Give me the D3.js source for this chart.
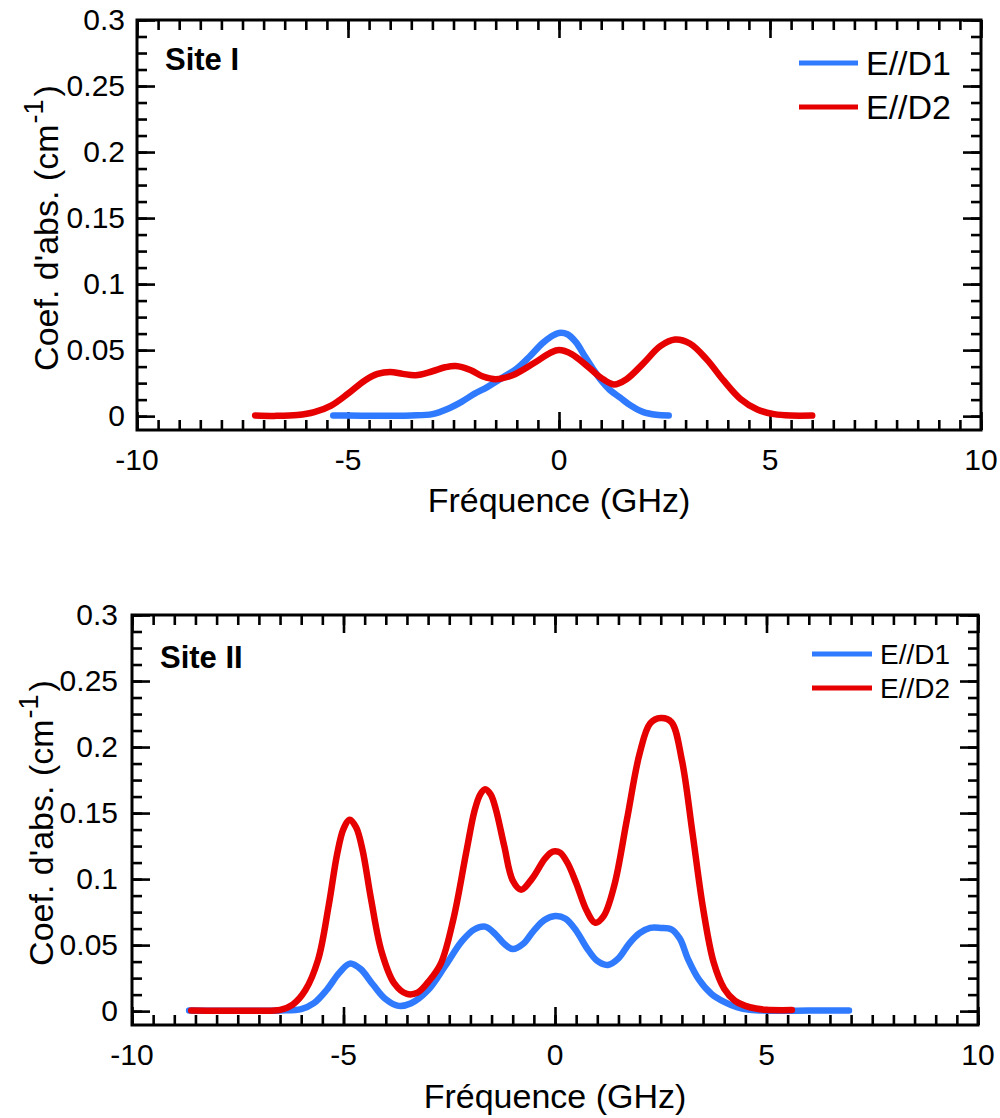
<!DOCTYPE html>
<html><head><meta charset="utf-8">
<script src="https://cdn.jsdelivr.net/npm/d3@7"></script>
<style>
body{margin:0;background:#fff}
svg{display:block}
text{font-family:"Liberation Sans",Arial,Helvetica,sans-serif;fill:#000}
</style>
</head><body>
<svg id="c" width="1000" height="1118"></svg>
<script>
// ---------- data ----------
const xMajorTicks = [-10, -5, 0, 5, 10];
const xTickLabels = ["-10", "-5", "0", "5", "10"];
const yMajorTicks = [0, 0.05, 0.1, 0.15, 0.2, 0.25, 0.3];
const yTickLabels = ["0", "0.05", "0.1", "0.15", "0.2", "0.25", "0.3"];
const seriesNames = ["E//D1", "E//D2"];
const panelTitles = ["Site I", "Site II"];
const xAxisTitle = "Fréquence (GHz)";
const yAxisTitle = "Coef. d'abs. (cm";
const yAxisSup = "-1";

// Site I, E//D1 : [frequency GHz, absorption cm^-1]
const siteI_D1 = [
  [-5.35,0.0005],[-5,0.0004],[-4.5,0.0003],[-4,0.0003],[-3.5,0.0005],[-3,0.0015],
  [-2.6,0.006],[-2.3,0.011],[-2,0.017],[-1.7,0.022],[-1.4,0.028],[-1,0.036],
  [-0.7,0.045],[-0.4,0.055],[-0.2,0.060],[0,0.063],[0.2,0.062],[0.4,0.056],
  [0.6,0.046],[0.8,0.036],[1,0.027],[1.2,0.020],[1.45,0.014],[1.7,0.008],
  [2,0.003],[2.3,0.001],[2.6,0.0005]
];
// Site I, E//D2
const siteI_D2 = [
  [-7.2,0.0005],[-6.7,0.0002],[-6.2,0.0008],[-5.8,0.003],[-5.4,0.008],[-5,0.017],
  [-4.6,0.027],[-4.3,0.032],[-4,0.0335],[-3.7,0.032],[-3.4,0.031],[-3,0.034],
  [-2.7,0.037],[-2.45,0.038],[-2.1,0.035],[-1.8,0.030],[-1.5,0.028],[-1.1,0.031],
  [-0.6,0.040],[-0.2,0.048],[0,0.050],[0.3,0.047],[0.7,0.037],[1,0.029],
  [1.3,0.024],[1.6,0.028],[2,0.040],[2.4,0.053],[2.75,0.058],[3.1,0.055],
  [3.5,0.043],[3.9,0.027],[4.3,0.013],[4.7,0.005],[5.1,0.0015],[5.5,0.0004],[6,0.0004]
];
// Site II, E//D1
const siteII_D1 = [
  [-8.65,0.0005],[-8,0.0003],[-7,0.0003],[-6.5,0.0005],[-6,0.0015],[-5.7,0.006],
  [-5.4,0.016],[-5.1,0.029],[-4.85,0.036],[-4.6,0.032],[-4.3,0.020],[-4,0.009],
  [-3.7,0.004],[-3.4,0.006],[-3,0.016],[-2.6,0.034],[-2.2,0.053],[-1.9,0.062],
  [-1.65,0.064],[-1.4,0.058],[-1.2,0.051],[-1,0.047],[-0.75,0.051],[-0.5,0.061],
  [-0.25,0.069],[0,0.072],[0.25,0.070],[0.5,0.061],[0.75,0.048],[1,0.038],
  [1.25,0.035],[1.5,0.040],[1.75,0.051],[2,0.059],[2.25,0.063],[2.5,0.063],
  [2.75,0.062],[2.95,0.055],[3.15,0.039],[3.4,0.024],[3.7,0.013],[4,0.007],
  [4.3,0.003],[4.6,0.001],[5.2,0.0003],[6,0.0004],[6.95,0.0005]
];
// Site II, E//D2
const siteII_D2 = [
  [-8.6,0.0005],[-8,0.0003],[-7,0.0003],[-6.5,0.001],[-6.2,0.005],[-5.9,0.016],
  [-5.6,0.039],[-5.35,0.080],[-5.15,0.119],[-5,0.138],[-4.85,0.145],[-4.7,0.139],
  [-4.55,0.122],[-4.35,0.085],[-4.1,0.045],[-3.8,0.021],[-3.5,0.013],[-3.25,0.014],
  [-3,0.022],[-2.7,0.036],[-2.4,0.070],[-2.1,0.120],[-1.9,0.152],[-1.77,0.164],
  [-1.65,0.168],[-1.52,0.164],[-1.4,0.153],[-1.2,0.125],[-1,0.099],[-0.8,0.092],
  [-0.55,0.100],[-0.25,0.115],[-0.1,0.120],[0,0.121],[0.12,0.120],[0.3,0.112],
  [0.5,0.097],[0.75,0.076],[0.95,0.067],[1.15,0.072],[1.4,0.095],[1.7,0.145],
  [2,0.195],[2.25,0.218],[2.5,0.222],[2.75,0.219],[3,0.190],[3.25,0.135],
  [3.5,0.078],[3.75,0.037],[4,0.017],[4.25,0.008],[4.5,0.004],[4.75,0.002],
  [5,0.001],[5.6,0.0008]
];

const colors = ["#2f7aff", "#e60000"];

// ---------- drawing ----------
const svg = d3.select("#c");

function drawPanel(p) {
  const x = d3.scaleLinear().domain([-10, 10]).range([p.left, p.right]);
  const y = d3.scaleLinear().domain([-0.0105, 0.3]).range([p.bottom, p.top]);
  const g = svg.append("g");

  const xMinor = d3.range(-10, 10.001, 0.5);
  const yMinor = d3.range(0, 0.3001, 0.0125);

  function tickAxis(axisFn, scale, vals, len, transform) {
    const a = axisFn(scale).tickValues(vals).tickSize(-len).tickSizeOuter(0).tickFormat("");
    const ga = g.append("g").attr("transform", transform).call(a);
    ga.select(".domain").remove();
    ga.selectAll("line").attr("stroke", "#000").attr("stroke-width", 2.6);
    return ga;
  }
  tickAxis(d3.axisBottom, x, xMinor, 10, `translate(0,${p.bottom})`);
  tickAxis(d3.axisBottom, x, xMajorTicks, 18, `translate(0,${p.bottom})`);
  tickAxis(d3.axisTop, x, xMinor, 10, `translate(0,${p.top})`);
  tickAxis(d3.axisTop, x, xMajorTicks, 18, `translate(0,${p.top})`);
  tickAxis(d3.axisLeft, y, yMinor, 10, `translate(${p.left},0)`);
  tickAxis(d3.axisLeft, y, yMajorTicks, 18, `translate(${p.left},0)`);
  tickAxis(d3.axisRight, y, yMinor, 10, `translate(${p.right},0)`);
  tickAxis(d3.axisRight, y, yMajorTicks, 18, `translate(${p.right},0)`);

  // tick labels
  g.selectAll(".xl").data(xMajorTicks).enter().append("text")
    .attr("x", (d) => x(d)).attr("y", p.bottom + 40)
    .attr("text-anchor", "middle").attr("font-size", 30)
    .text((d, i) => xTickLabels[i]);
  g.selectAll(".yl").data(yMajorTicks).enter().append("text")
    .attr("x", p.left - p.ylabPad).attr("y", (d) => y(d) + 10)
    .attr("text-anchor", "end").attr("font-size", 30)
    .text((d, i) => yTickLabels[i]);

  // frame
  g.append("rect").attr("x", p.left).attr("y", p.top)
    .attr("width", p.right - p.left).attr("height", p.bottom - p.top)
    .attr("fill", "none").attr("stroke", "#000").attr("stroke-width", 3);

  // series
  const line = d3.line().x((d) => x(d[0])).y((d) => y(d[1])).curve(d3.curveCatmullRom.alpha(0.5));
  p.series.forEach((s, i) => {
    g.append("path").datum(s).attr("d", line)
      .attr("fill", "none").attr("stroke", colors[i]).attr("stroke-width", 6.5)
      .attr("stroke-linecap", "round").attr("stroke-linejoin", "round");
  });

  // axis titles
  g.append("text").attr("x", (p.left + p.right) / 2).attr("y", p.xTitleY)
    .attr("text-anchor", "middle").attr("font-size", 34).text(xAxisTitle);
  const yt = g.append("text")
    .attr("transform", `translate(${p.yTitleX},${(p.top + p.bottom) / 2 + 3}) rotate(-90)`)
    .attr("text-anchor", "middle").attr("font-size", 34);
  yt.append("tspan").text(yAxisTitle);
  yt.append("tspan").attr("font-size", 27).attr("dy", -15).attr("dx", 1).text(yAxisSup);
  yt.append("tspan").attr("dy", 15).attr("dx", 3).text(")");

  // panel title
  g.append("text").attr("x", p.titleX).attr("y", p.titleY)
    .attr("font-size", 31).attr("font-weight", "bold").text(p.title);

  // legend
  seriesNames.forEach((name, i) => {
    const ly = p.legY[i];
    g.append("line").attr("x1", p.legX1).attr("x2", p.legX2).attr("y1", ly).attr("y2", ly)
      .attr("stroke", colors[i]).attr("stroke-width", 5);
    g.append("text").attr("x", p.legTX).attr("y", ly + p.legFont * 0.36)
      .attr("font-size", p.legFont).text(name);
  });
}

drawPanel({
  left: 137, right: 981, top: 20, bottom: 430, ylabPad: 12,
  xTitleY: 512, yTitleX: 58, title: panelTitles[0], titleX: 165, titleY: 70,
  series: [siteI_D1, siteI_D2],
  legX1: 799, legX2: 858, legTX: 866, legY: [63, 107], legFont: 34
});
drawPanel({
  left: 132, right: 978, top: 615, bottom: 1025, ylabPad: 14,
  xTitleY: 1108, yTitleX: 53, title: panelTitles[1], titleX: 160, titleY: 668,
  series: [siteII_D1, siteII_D2],
  legX1: 812, legX2: 872, legTX: 880, legY: [654, 688], legFont: 28
});
</script>
</body></html>
